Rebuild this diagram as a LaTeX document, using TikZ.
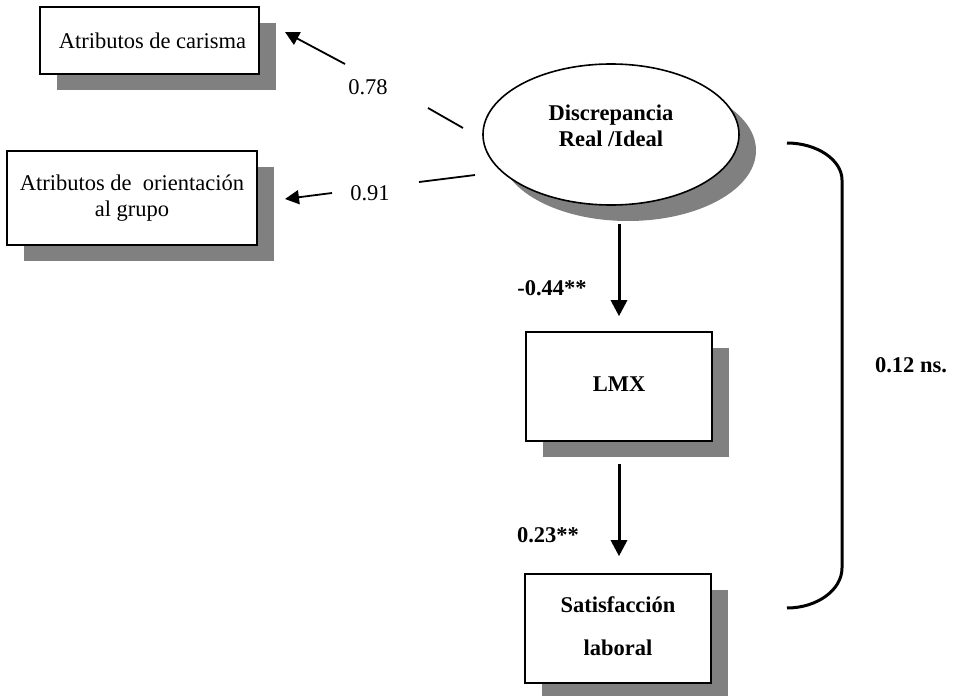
\documentclass[tikz,border=0pt]{standalone}
\usepackage{fontspec}
\setmainfont{Liberation Serif}
\usetikzlibrary{shapes.geometric,shadows,arrows.meta}
\begin{document}
\begin{tikzpicture}[x=1pt,y=-1pt,
  every node/.style={font=\fontsize{22.5}{26}\selectfont},
  shad/.style={drop shadow={shadow xshift=17pt,shadow yshift=-16pt,fill=gray,opacity=1}},
  boxnode/.style={draw=black,line width=1.6pt,fill=white,shad,inner sep=0pt,align=center},
  varr/.style={line width=3pt,-{Triangle[length=16pt,width=16pt]}},
  larr/.style={line width=1.8pt,-{Triangle[length=14pt,width=14pt]}},
  lline/.style={line width=1.8pt},
  lab/.style={inner sep=0pt},
  blab/.style={inner sep=0pt,font=\fontsize{22.5}{26}\selectfont\bfseries}]
\useasboundingbox (0,0) rectangle (954,696);

\node[boxnode,minimum width=219pt,minimum height=67pt] (car) at (149.5,40.5) {\hspace{6pt}Atributos de carisma};
\node[boxnode,minimum width=250pt,minimum height=94pt] (ori) at (132,198) {Atributos de\ \ orientación\\al grupo};
\node[ellipse,draw=black,line width=1.6pt,fill=white,shad,inner sep=0pt,minimum width=256pt,minimum height=141pt,font=\fontsize{22.5}{26}\selectfont\bfseries] (ell) at (611,134.5)
  {\raisebox{1pt}[0pt][0pt]{\begin{tabular}{@{}c@{}}Discrepancia\\Real /Ideal\end{tabular}}};
\node[boxnode,minimum width=186pt,minimum height=109pt,font=\fontsize{22.5}{26}\selectfont\bfseries] (lmx) at (619,386.5) {\raisebox{4pt}{LMX}};
\node[boxnode,minimum width=186pt,minimum height=109pt,font=\fontsize{22.5}{43}\selectfont\bfseries] (sat) at (618,628.5) {\raisebox{-2pt}[0pt][0pt]{\begin{tabular}{@{}c@{}}Satisfacción\\laboral\end{tabular}}};

% left paths
\coordinate (a1s) at (463,128);
\coordinate (a1g) at (428,108);
\coordinate (a1r) at (345,64);
\coordinate (a1t) at (285,32);
\draw[lline] (a1s) -- (a1g);
\draw[larr] (a1r) -- (a1t);
\node[lab] (l78) at (368,87) {0.78};

\coordinate (a2s) at (475,175);
\coordinate (a2g) at (419,182);
\coordinate (a2r) at (332,193);
\coordinate (a2t) at (285,199);
\draw[lline] (a2s) -- (a2g);
\draw[larr] (a2r) -- (a2t);
\node[lab] (l91) at (370,193) {0.91};

% vertical arrows
\draw[varr,shorten <=18pt,shorten >=15pt] (ell.south -| lmx.north) -- (lmx.north);
\node[blab] (l44) at (552,288) {-0.44**};
\draw[varr,shorten <=22pt,shorten >=17pt] (lmx.south) -- (lmx.south |- sat.north);
\node[blab] (l23) at (548,535) {0.23**};

% bracket
\coordinate (bt) at (787,143);
\coordinate (bb) at (787,608);
\draw[line width=3pt] (bt) .. controls (817,143) and (842,160) .. (842,180) -- (842,568) .. controls (842,590) and (817,608) .. (bb);
\node[blab] (l12) at (911,365) {0.12 ns.};
\end{tikzpicture}
\end{document}
